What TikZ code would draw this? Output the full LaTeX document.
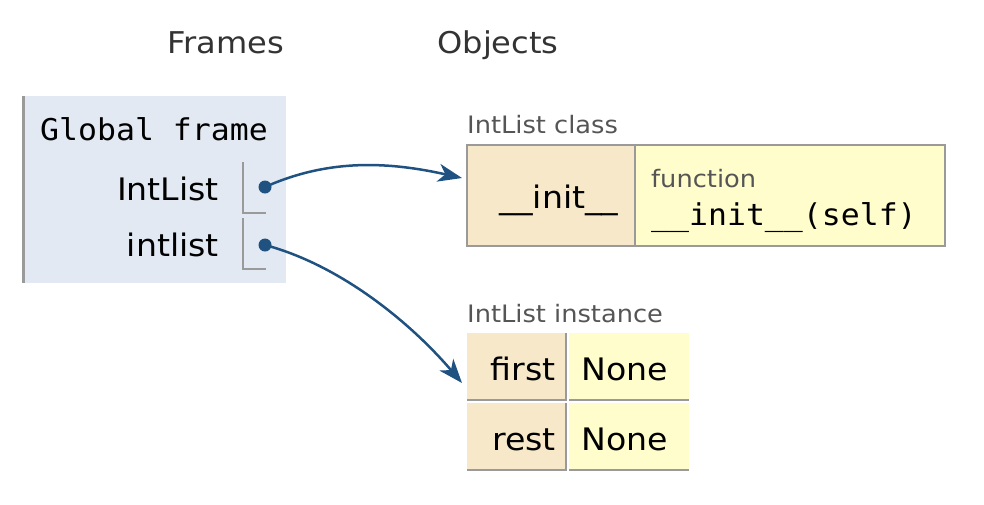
\documentclass[tikz,border=0pt]{standalone}
\usepackage{fontspec}
\setmainfont{DejaVu Sans}[FakeStretch=1.07]
\setmonofont{DejaVu Sans Mono}[FakeStretch=1.05]
\usetikzlibrary{arrows.meta}
\definecolor{framebg}{HTML}{E2E9F3}
\definecolor{keybg}{HTML}{F6E8C8}
\definecolor{valbg}{HTML}{FFFDCC}
\definecolor{ptrblue}{HTML}{1F5280}
\definecolor{rulegray}{HTML}{9A9A9A}
\definecolor{labelgray}{HTML}{555555}
\definecolor{titlegray}{HTML}{333333}

\begin{document}
\begin{tikzpicture}[x=1pt,y=-1pt,
  heading/.style={text=titlegray,font=\fontsize{30}{36}\selectfont,anchor=base,inner sep=0pt},
  caption/.style={text=labelgray,font=\fontsize{24}{29}\selectfont,anchor=base west,inner sep=0pt},
  big/.style={font=\fontsize{31}{37}\selectfont,inner sep=0pt},
  code/.style={font=\ttfamily\fontsize{30}{36}\selectfont,anchor=base west,inner sep=0pt},
  keycell/.style={fill=keybg,anchor=north west,inner sep=0pt,outer sep=0pt},
  valcell/.style={fill=valbg,anchor=north west,inner sep=0pt,outer sep=0pt},
  dot/.style={circle,fill=ptrblue,inner sep=0pt,minimum size=13pt},
  pointer/.style={ptrblue,line width=2.5pt,-{Stealth[length=24pt,width=18pt,inset=7pt]}},
  slot/.style={rulegray,line width=2pt},
  rowrule/.style={rulegray,line width=2.5pt}]
\useasboundingbox (0,0) rectangle (984,504);

\node[heading] (frames) at (226,53) {Frames};
\node[heading] (objects) at (498,53) {Objects};

\node[fill=framebg,anchor=north west,minimum width=264pt,minimum height=187pt,inner sep=0pt,outer sep=0pt] (global) at (22,96) {};
\draw[rulegray,line width=2.5pt] ([xshift=1.25pt]global.north west) -- ([xshift=1.25pt]global.south west);
\node[code] (gftitle) at (40,140) {Global frame};
\node[big,anchor=base east] (clsname) at (219,200) {IntList};
\node[big,anchor=base east] (varname) at (219,256) {intlist};
\draw[slot] (243,162) |- (266,213);
\draw[slot] (243,218) |- (266,269);
\node[dot] (clsdot) at (265,187) {};
\node[dot] (vardot) at (265,245) {};

\node[caption] (clslabel) at (467,133) {IntList class};
\node[keycell,draw=rulegray,line width=2pt,minimum width=168pt,minimum height=101pt] (initkey) at (467,145) {};
\node[valcell,draw=rulegray,line width=2pt,minimum width=310pt,minimum height=101pt] (initval) at (initkey.north east) {};
\node[big,anchor=base] (initname) at (559,208) {\_\_init\_\_};
\node[caption] (fnkind) at (651,187) {function};
\node[code] (fnsig) at (651,225) {\_\_init\_\_(self)};

\node[caption] (instlabel) at (467,322) {IntList instance};
\node[keycell,minimum width=100pt,minimum height=68pt] (firstkey) at (467,333) {};
\node[valcell,minimum width=120pt,minimum height=68pt] (firstval) at ([xshift=2pt]firstkey.north east) {};
\node[keycell,minimum width=100pt,minimum height=68pt] (restkey) at ([yshift=-2pt]firstkey.south west) {};
\node[valcell,minimum width=120pt,minimum height=68pt] (restval) at ([xshift=2pt]restkey.north east) {};
\draw[rowrule] ([yshift=1.25pt]firstkey.south west) -- ([xshift=-1.25pt,yshift=1.25pt]firstkey.south east) -- ([xshift=-1.25pt]firstkey.north east);
\draw[rowrule] ([yshift=1.25pt]firstval.south west) -- ([yshift=1.25pt]firstval.south east);
\draw[rowrule] ([yshift=1.25pt]restkey.south west) -- ([xshift=-1.25pt,yshift=1.25pt]restkey.south east) -- ([xshift=-1.25pt]restkey.north east);
\draw[rowrule] ([yshift=1.25pt]restval.south west) -- ([yshift=1.25pt]restval.south east);
\node[big,anchor=base east] (firstname) at (556,380) {first};
\node[big,anchor=base west] (firstnone) at (581,380) {None};
\node[big,anchor=base east] (restname) at (556,450) {rest};
\node[big,anchor=base west] (restnone) at (581,450) {None};

\draw[pointer] (clsdot.center) .. controls (330,158) and (390,162) .. ([xshift=-5pt,yshift=-33pt]initkey.north west);
\draw[pointer] (vardot.center) .. controls (340,265) and (410,322) .. ([xshift=-5pt,yshift=-50pt]firstkey.north west);
\end{tikzpicture}
\end{document}
